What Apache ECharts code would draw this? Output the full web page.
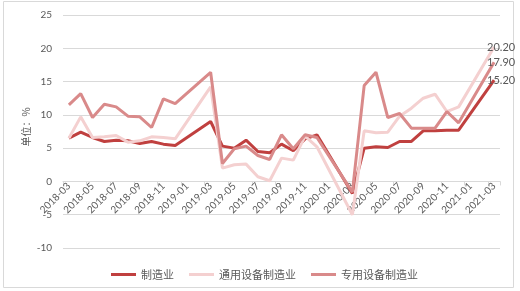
<!DOCTYPE html>
<html>
<head>
<meta charset="utf-8">
<script src="https://cdn.jsdelivr.net/npm/echarts@6/dist/echarts.min.js"></script>
<style>html,body{margin:0;padding:0;background:#fff}#c{width:520px;height:291px}</style>
</head>
<body>
<div id="c"></div>
<script>
var categories = ['2018-03','2018-04','2018-05','2018-06','2018-07','2018-08','2018-09','2018-10','2018-11','2018-12',
  '2019-01','2019-02','2019-03','2019-04','2019-05','2019-06','2019-07','2019-08','2019-09','2019-10','2019-11','2019-12',
  '2020-01','2020-02','2020-03','2020-04','2020-05','2020-06','2020-07','2020-08','2020-09','2020-10','2020-11','2020-12',
  '2021-01','2021-02','2021-03'];
var seriesNames = ['制造业','通用设备制造业','专用设备制造业'];
var manufacturing = [6.5,7.4,6.6,6.0,6.2,6.1,5.7,6.0,5.6,5.4,null,null,9.0,5.3,5.0,6.2,4.5,4.3,5.6,4.6,6.4,7.0,null,null,-1.8,5.0,5.2,5.1,6.0,6.0,7.6,7.6,7.7,7.7,null,null,15.2];
var generalEquip = [6.5,9.7,6.6,6.7,6.9,5.9,6.1,6.7,6.6,6.4,null,null,14.2,2.0,2.5,2.6,0.7,0.1,3.5,3.2,6.8,5.2,null,null,-5.0,7.6,7.3,7.4,9.8,11.0,12.5,13.1,10.5,11.2,null,null,20.2];
var specialEquip = [11.5,13.2,9.6,11.6,11.2,9.8,9.7,8.1,12.4,11.7,null,null,16.4,2.7,4.9,5.3,3.9,3.3,7.0,4.9,7.0,6.6,null,null,-1.6,14.4,16.4,9.6,10.2,8.0,8.0,8.0,10.5,8.8,null,null,17.9];
var colors = ['#c0403f','#f4d0d0','#d98a8a'];
var yMin = -10, yMax = 25;
var yAxisTitle = '单位：%';

var FONT = "Lato, 'Noto Sans CJK SC', sans-serif";
var allData = [manufacturing, generalEquip, specialEquip];
var gridTop = 15, gridBottom = 43, H = 291;
var plotH = H - gridTop - gridBottom;
// move the category axis up to the value 0 line
var zeroOffset = -plotH * (0 - yMin) / (yMax - yMin);
var chart = echarts.init(document.getElementById('c'));
chart.setOption({
  animation:false,
  textStyle:{fontFamily:FONT},
  graphic:[
    {type:'rect', shape:{x:3.5,y:1.5,width:510,height:286}, style:{fill:'none', stroke:'#d9d9d9', lineWidth:1}, silent:true},
    {type:'text', x:26, y:127, rotation:Math.PI/2, silent:true,
     style:{text:yAxisTitle, fill:'#595959', fontSize:10, fontFamily:"'Noto Sans CJK SC', sans-serif", align:'center', verticalAlign:'middle'}}
  ],
  grid:{left:63, right:20, top:gridTop, bottom:gridBottom, containLabel:false},
  legend:{
    data:seriesNames, top:264, left:106, icon:'rect', itemWidth:25, itemHeight:3, itemGap:15,
    textStyle:{color:'#595959', fontSize:11, fontFamily:"'Noto Sans CJK SC', sans-serif"}
  },
  xAxis:{
    type:'category', data:categories, boundaryGap:true, position:'bottom', offset:zeroOffset,
    axisLine:{onZero:false, lineStyle:{color:'#d9d9d9'}},
    axisTick:{show:true, interval:1, length:4, lineStyle:{color:'#d9d9d9'}},
    axisLabel:{interval:1, rotate:45, color:'#595959', fontSize:10, margin:3, fontFamily:FONT},
    splitLine:{show:false}
  },
  yAxis:{
    type:'value', min:yMin, max:yMax, interval:5,
    axisLine:{show:false}, axisTick:{show:false},
    axisLabel:{color:'#595959', fontSize:10, margin:11, fontFamily:FONT},
    splitLine:{lineStyle:{color:'#d9d9d9', width:1}}
  },
  series: seriesNames.map(function(n,i){
    return {
      name:n, type:'line', data:allData[i], connectNulls:true,
      symbol:'none', showSymbol:false, color:colors[i],
      lineStyle:{width:3, color:colors[i]},
      endLabel:{show:true, distance:0, offset:[-7,0], color:'#595959', fontSize:11, fontFamily:FONT,
        formatter:function(p){ var v = Array.isArray(p.value) ? p.value[p.value.length-1] : p.value; return Number(v).toFixed(2); }}
    };
  })
});
</script>
</body>
</html>
